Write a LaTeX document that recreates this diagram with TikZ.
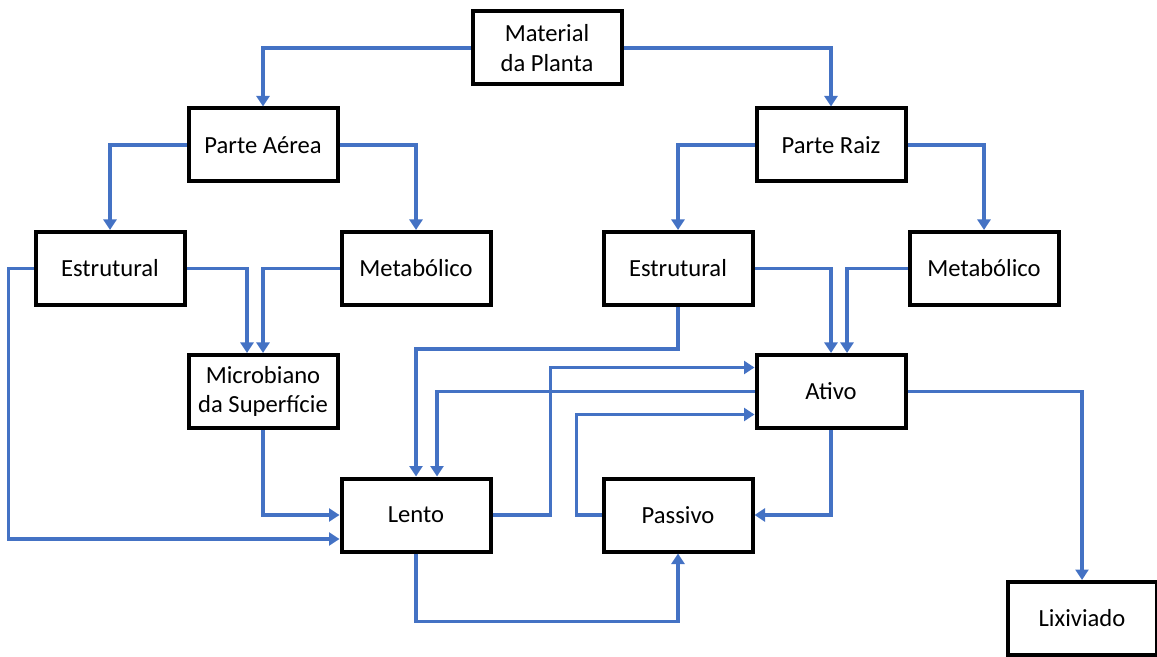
\documentclass[tikz,border=0pt]{standalone}
\usepackage{fontspec}
\setmainfont{Carlito}
\usepackage{tikz}
\usetikzlibrary{arrows.meta,positioning}
\definecolor{officeblue}{RGB}{68,114,196}

\begin{document}
\begin{tikzpicture}[
  box/.style={draw,line width=0.08cm,minimum height=1.46cm,minimum width=2.98cm,align=center,font=\fontsize{14}{17}\selectfont,inner sep=2pt},
  arrow/.style={-{Triangle[length=2.1mm,width=2.6mm]},line width=0.066cm,draw=officeblue}
]
\useasboundingbox (0,0) rectangle (23.14,-13.14);
\node[box] (planta) at (10.94,-0.96) {Material\\da Planta};
\node[box,below left=0.4cm and 2.62cm of planta] (aerea) {Parte Aérea};
\node[box,below right=0.4cm and 2.62cm of planta] (raiz) {Parte Raiz};
\node[box,below left=0.93cm and 0cm of aerea] (estA) {Estrutural};
\node[box,below right=0.93cm and 0cm of aerea] (metA) {Metabólico};
\node[box,below left=0.93cm and 0cm of raiz] (estR) {Estrutural};
\node[box,below right=0.93cm and 0cm of raiz] (metR) {Metabólico};
\node[box,below right=0.92cm and 0cm of estA] (micro) {Microbiano\\da Superfície};
\node[box,below right=0.92cm and 0cm of estR] (ativo) {Ativo};
\node[box,below right=0.93cm and 0cm of micro] (lento) {Lento};
\node[box,below left=0.93cm and 0cm of ativo] (passivo) {Passivo};
\node[box,below right=3.0cm and 1.96cm of ativo] (lixiviado) {Lixiviado};
\draw[arrow] (planta.west) -| (aerea.north);
\draw[arrow] (planta.east) -| (raiz.north);
\draw[arrow] (aerea.west) -| (estA.north);
\draw[arrow] (aerea.east) -| (metA.north);
\draw[arrow] (raiz.west) -| (estR.north);
\draw[arrow] (raiz.east) -| (metR.north);
\draw[arrow] (estA.east) -| ([xshift=-0.32cm]micro.north);
\draw[arrow] (metA.west) -| (micro.north);
\draw[arrow] (estA.west) -- ++(-0.5,0) |- ([yshift=-0.48cm]lento.west);
\draw[arrow] (micro.south) |- (lento.west);
\draw[arrow] (estR.south) -- ++(0,-0.84) -| (lento.north);
\draw[arrow] (estR.east) -| (ativo.north);
\draw[arrow] (metR.west) -| ([xshift=0.32cm]ativo.north);
\draw[arrow] (lento.east) -- ++(1.16,0) |- ([yshift=0.48cm]ativo.west);
\draw[arrow] (ativo.west) -| ([xshift=0.42cm]lento.north);
\draw[arrow] (passivo.west) -- ++(-0.5,0) |- ([yshift=-0.46cm]ativo.west);
\draw[arrow] (ativo.south) |- (passivo.east);
\draw[arrow] (lento.south) -- ++(0,-1.36) -| (passivo.south);
\draw[arrow] (ativo.east) -| (lixiviado.north);
\end{tikzpicture}
\end{document}
